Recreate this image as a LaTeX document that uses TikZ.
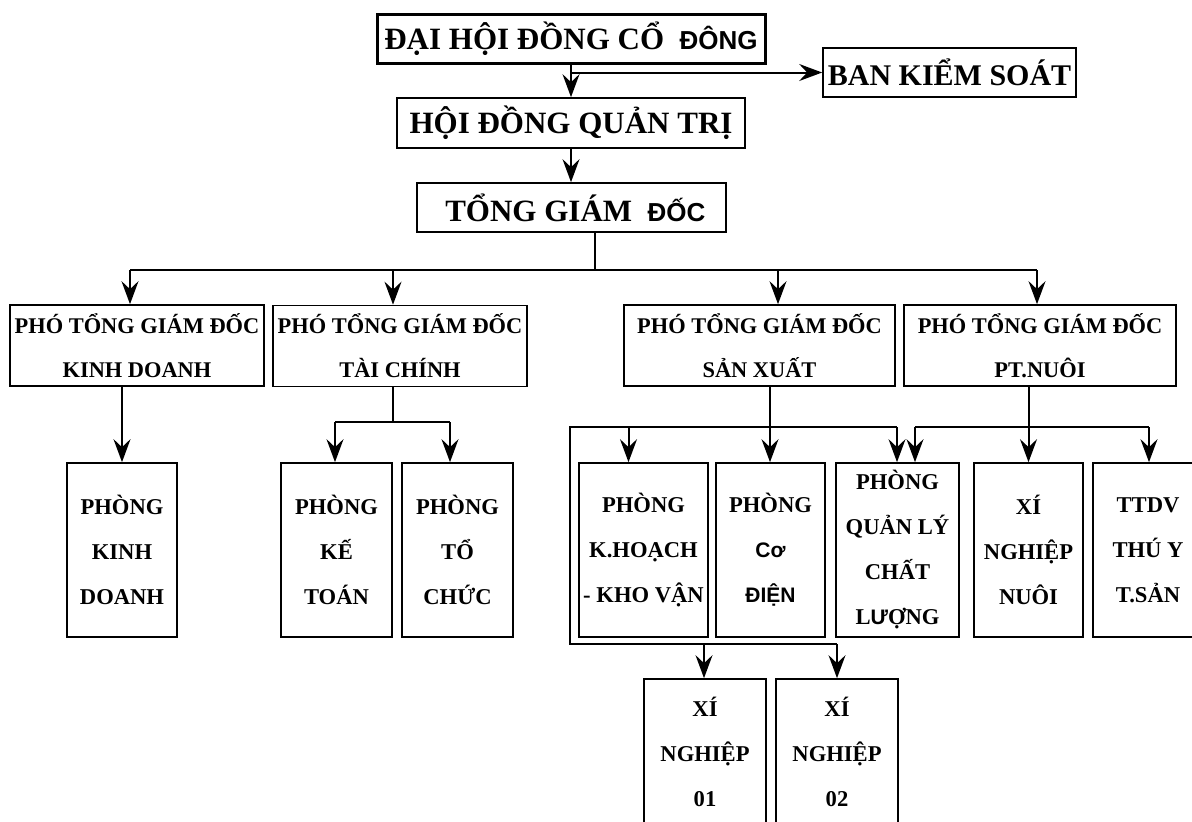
\documentclass[tikz,border=0pt]{standalone}
\usepackage{fontspec}
\setmainfont{Liberation Serif}
\newfontfamily\fbsans{Liberation Sans}
\usetikzlibrary{arrows.meta}

\tikzset{
  unit/.style={draw, line width=0.85pt, inner sep=0pt, align=center,
    font=\bfseries\fontsize{11.3}{22.5}\selectfont, minimum height=87pt},
  vpbox/.style={unit, font=\bfseries\fontsize{11.2}{22}\selectfont, minimum height=40.5pt},
  headbox/.style={unit, font=\bfseries\fontsize{15.5}{18}\selectfont, minimum height=24.5pt},
  link/.style={line width=1pt},
  feed/.style={link, -{Stealth[length=11.5pt, width=8.5pt, inset=4pt]}},
}

\begin{document}
\begin{tikzpicture}[x=0.5pt, y=-0.5pt]
  \useasboundingbox (0,0) rectangle (1192,821);

  % ---- top levels ----
  \node[headbox, line width=1.5pt, minimum width=194pt] (dhcd) at (571,38.5)
    {ĐẠI HỘI ĐỒNG CỔ~~{\fbsans\fontsize{13}{15}\selectfont ĐÔNG}};
  \node[headbox, font=\bfseries\fontsize{15}{18}\selectfont, minimum width=126.5pt] (bks) at (949.5,72.5) {BAN KIỂM SOÁT};
  \node[headbox, minimum width=174pt, minimum height=25pt] (hdqt) at (571,123) {HỘI ĐỒNG QUẢN TRỊ};
  \node[headbox, minimum width=154.5pt] (tgd) at (571.5,207.5)
    {\ TỔNG GIÁM~~{\fbsans\fontsize{13}{15}\selectfont ĐỐC}};

  % ---- deputy directors ----
  \node[vpbox, minimum width=127pt] (kd) at (137,345.5) {PHÓ TỔNG GIÁM ĐỐC\\KINH DOANH};
  \node[vpbox, minimum width=127pt] (tc) at (400,346) {PHÓ TỔNG GIÁM ĐỐC\\TÀI CHÍNH};
  \node[vpbox, minimum width=135.5pt] (sx) at (759.5,345.5) {PHÓ TỔNG GIÁM ĐỐC\\SẢN XUẤT};
  \node[vpbox, minimum width=136pt] (pt) at (1040,345.5) {PHÓ TỔNG GIÁM ĐỐC\\PT.NUÔI};

  % ---- departments ----
  \node[unit, minimum width=55pt] (pkd) at (122,550) {PHÒNG\\KINH\\DOANH};
  \node[unit, minimum width=55.5pt] (pkt) at (336.5,550) {PHÒNG\\KẾ\\TOÁN};
  \node[unit, minimum width=55.5pt] (ptc) at (457.5,550) {PHÒNG\\TỔ\\CHỨC};
  \node[unit, minimum width=64.5pt] (pkh) at (643.5,550) {PHÒNG\\K.HOẠCH\\- KHO VẬN};
  \node[unit, minimum width=54.5pt] (pcd) at (770.5,550)
    {PHÒNG\\{\fbsans\fontsize{10.5}{22.5}\selectfont Cơ}\\{\fbsans\fontsize{10.5}{22.5}\selectfont ĐIỆN}};
  \node[unit, minimum width=61.5pt] (pql) at (897.5,550)
    {PHÒNG\\QUẢN LÝ\\CHẤT\\L{\fbsans\fontsize{10.5}{22.5}\selectfont Ư}ỢNG};
  \node[unit, minimum width=54.5pt] (pxn) at (1028.5,550) {XÍ\\NGHIỆP\\NUÔI};
  \node[unit, minimum width=55pt] (ttdv) at (1148,550) {TTDV\\THÚ Y\\T.SẢN};

  % ---- factories ----
  \node[unit, minimum width=61pt, minimum height=73pt] (xn1) at (705,752) {XÍ\\NGHIỆP\\01};
  \node[unit, minimum width=61pt, minimum height=73pt] (xn2) at (837,752) {XÍ\\NGHIỆP\\02};

  % ---- links: top chain ----
  \draw[feed] (dhcd.south) -- (hdqt.north);
  \draw[feed] (dhcd.south |- bks.west) -- (bks.west);
  \draw[feed] (hdqt.south) -- (hdqt.south |- tgd.north);

  % ---- links: main bus ----
  \coordinate (tap) at (595,270);
  \draw[link] (tgd.south -| tap) -- (tap);
  \draw[link] (130,270) -- (1037,270);
  \foreach \n/\x in {kd/130, tc/393, sx/778, pt/1037} {
    \draw[feed] (\x,270) -- (\x,270 |- \n.north);
  }

  % ---- links: kinh doanh ----
  \draw[feed] (kd.south -| pkd.north) -- (pkd.north);

  % ---- links: tai chinh ----
  \coordinate (tcJ) at (393,422);
  \draw[link] (tc.south -| tcJ) -- (tcJ);
  \draw[link] (335,422) -- (450,422);
  \foreach \n/\x in {pkt/335, ptc/450} {
    \draw[feed] (\x,422) -- (\x,422 |- \n.north);
  }

  % ---- links: san xuat ----
  \coordinate (sxJ) at (770,427);
  \draw[link] (sx.south -| sxJ) -- (sxJ);
  \draw[link] (897,427) -- (570,427) -- (570,644) -- (837,644);
  \foreach \n/\x in {pkh/628.5, pcd/770, pql/897} {
    \draw[feed] (\x,427) -- (\x,427 |- \n.north);
  }
  \foreach \n/\x in {xn1/704, xn2/837} {
    \draw[feed] (\x,644) -- (\x,644 |- \n.north);
  }

  % ---- links: pt nuoi ----
  \coordinate (ptJ) at (1028.5,427);
  \draw[link] (pt.south -| ptJ) -- (ptJ);
  \draw[link] (915,427) -- (1149,427);
  \foreach \n/\x in {pql/915, pxn/1028.5, ttdv/1149} {
    \draw[feed] (\x,427) -- (\x,427 |- \n.north);
  }
\end{tikzpicture}
\end{document}
